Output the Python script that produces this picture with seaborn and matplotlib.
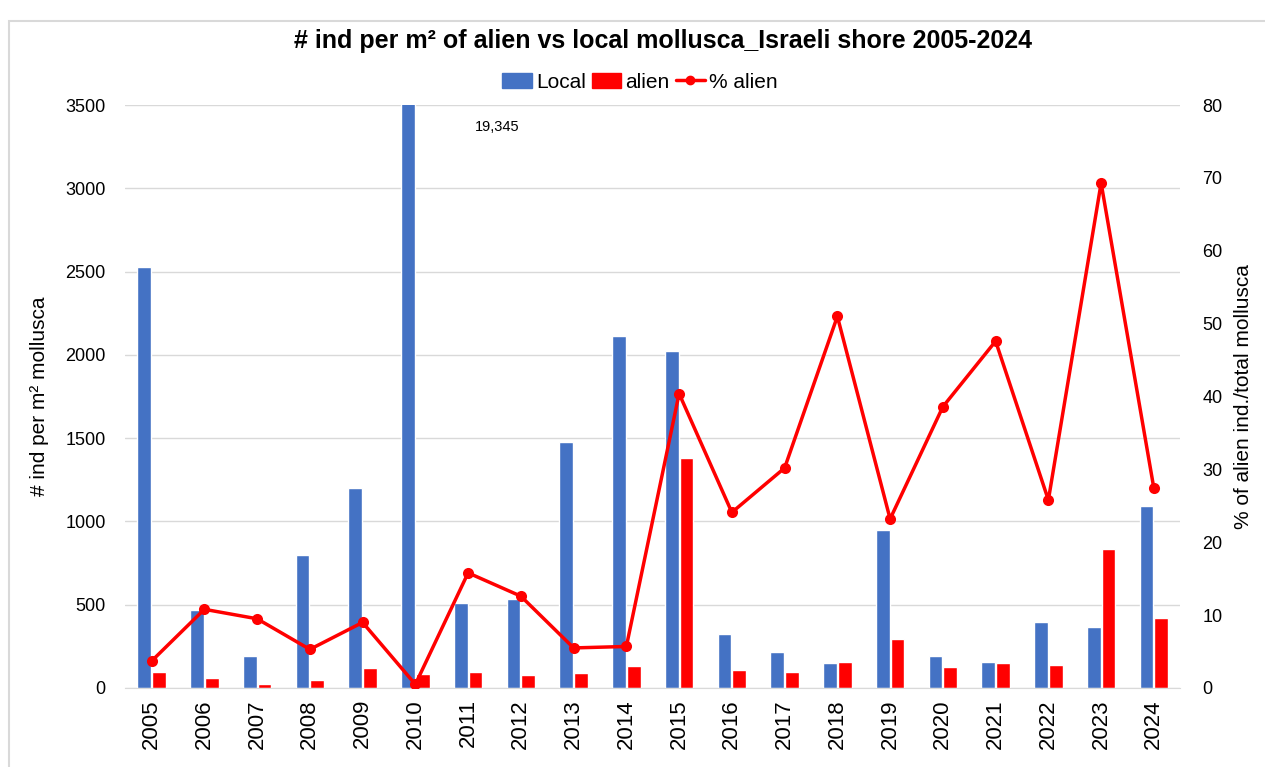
import numpy as np
import pandas as pd
import matplotlib
matplotlib.use("Agg")
import matplotlib.pyplot as plt
from matplotlib.patches import Patch, Rectangle
from matplotlib.lines import Line2D
import seaborn as sns

# data
years = [str(y) for y in range(2005, 2025)]
local = [2530, 470, 195, 800, 1200, 19345, 510, 535, 1480, 2115,
         2025, 325, 215, 150, 950, 192, 156, 396, 366, 1090]
alien = [95, 60, 25, 48, 120, 84, 96, 78, 90, 130,
         1380, 108, 96, 156, 294, 126, 150, 138, 834, 420]
pct_alien = [3.7, 10.8, 9.5, 5.3, 9.0, 0.5, 15.8, 12.6, 5.5, 5.7,
             40.4, 24.1, 30.2, 51.0, 23.2, 38.6, 47.6, 25.8, 69.3, 27.4]

blue = "#4472C4"
red = "#FF0000"
grid_c = "#D9D9D9"

sns.set_style("white")
plt.rcParams['font.family'] = ['Liberation Sans', 'DejaVu Sans']
plt.rcParams['text.color'] = 'black'
plt.rcParams['axes.labelcolor'] = 'black'
plt.rcParams['xtick.color'] = 'black'
plt.rcParams['ytick.color'] = 'black'

df = pd.DataFrame({
    "year": years * 2,
    "value": local + alien,
    "kind": ["Local"] * len(years) + ["alien"] * len(years),
})

fig = plt.figure(figsize=(12.65, 7.67), dpi=100)
ax = fig.add_axes([0.099, 0.103, 0.834, 0.760])

sns.barplot(data=df, x="year", y="value", hue="kind", order=years,
            hue_order=["Local", "alien"], palette=[blue, red],
            width=0.56, gap=0.08, ax=ax, legend=False, saturation=1)

ax.set_ylim(0, 3500)
ax.set_yticks(np.arange(0, 3501, 500))
ax.yaxis.grid(True, color=grid_c, lw=1)
ax.set_axisbelow(True)
for s in ["top", "right", "left"]:
    ax.spines[s].set_visible(False)
ax.spines["bottom"].set_color(grid_c)
ax.tick_params(axis="y", length=0, pad=14, labelsize=13)
ax.tick_params(axis="x", length=0, pad=8, labelsize=16, rotation=90)
ax.set_xlabel("")
ax.set_ylabel("# ind per m² mollusca", fontsize=15, labelpad=12)

# off-scale value of 2010
ax.text(6.55, 3370, "19,345", fontsize=10.5, ha="center", va="center")

ax2 = ax.twinx()
sns.lineplot(x=np.arange(len(years)), y=pct_alien, ax=ax2, color=red,
             lw=2.5, marker="o", markersize=8, markeredgewidth=0)
ax2.set_ylim(0, 80)
ax2.set_yticks(np.arange(0, 81, 10))
for s in ["top", "right", "left", "bottom"]:
    ax2.spines[s].set_visible(False)
ax2.tick_params(axis="y", length=0, pad=16, labelsize=13)
ax2.set_ylabel("% of alien ind./total mollusca", fontsize=15, labelpad=8)
ax.set_xlim(-0.5, len(years) - 0.5)

handles = [Patch(color=blue, label="Local"), Patch(color=red, label="alien"),
           Line2D([], [], color=red, lw=2.5, marker="o", markersize=6, label="% alien")]
fig.legend(handles=handles, loc="center", bbox_to_anchor=(0.506, 0.893), ncol=3,
           frameon=False, fontsize=15, handlelength=1.4, handletextpad=0.2,
           columnspacing=0.3)

fig.suptitle("# ind per m² of alien vs local mollusca_Israeli shore 2005-2024",
             x=0.524, y=0.962, fontsize=18, fontweight="bold")

# chart area border
fig.patches.append(Rectangle((0.007, -0.05), 1.1, 1.022, transform=fig.transFigure,
                             fill=False, ec=grid_c, lw=1.5))

fig.savefig("out.png", dpi=100)
